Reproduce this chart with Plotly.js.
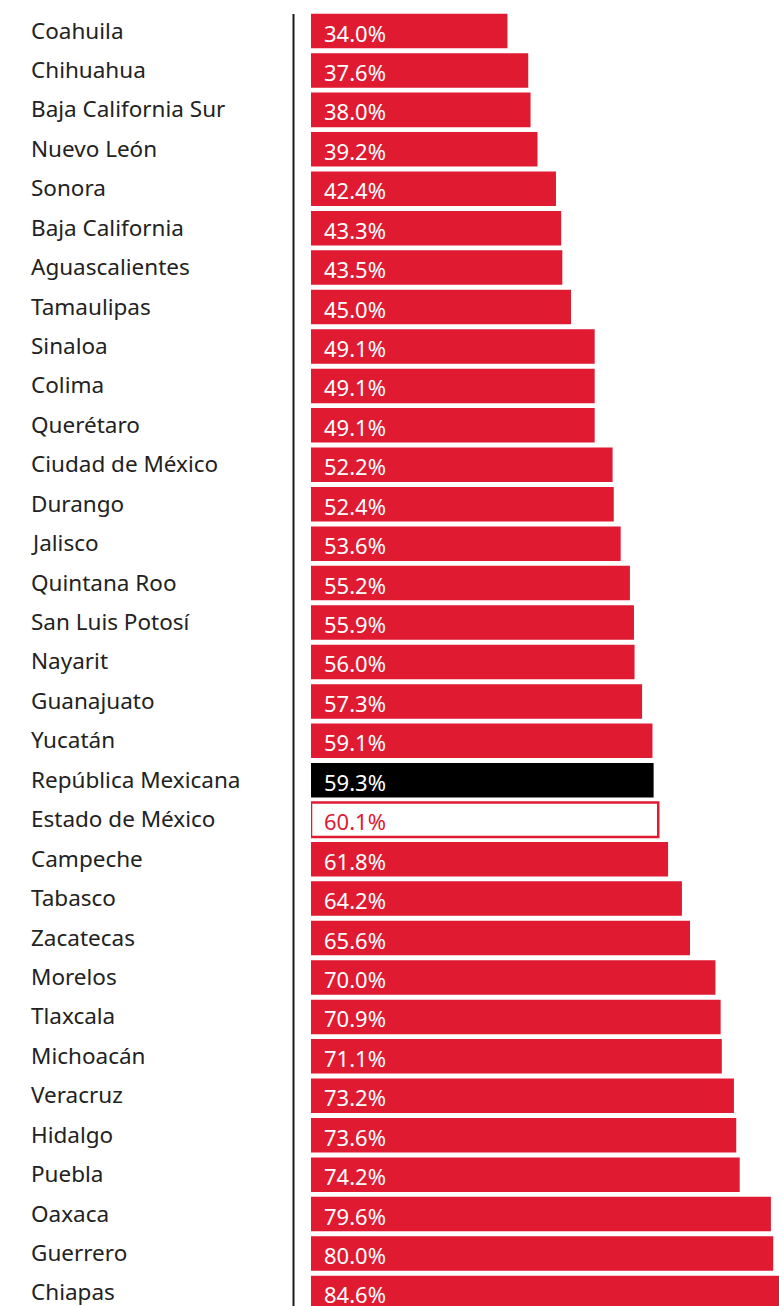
<!DOCTYPE html>
<html>
<head>
<meta charset="utf-8">
<script src="https://cdn.plot.ly/plotly-3.0.1.min.js"></script>
<style>
  html, body { margin: 0; padding: 0; background: #ffffff; }
  #chart { width: 779px; height: 1306px; }
</style>
</head>
<body>
<div id="chart"></div>
<script>
const states = [
  "Coahuila", "Chihuahua", "Baja California Sur", "Nuevo León", "Sonora",
  "Baja California", "Aguascalientes", "Tamaulipas", "Sinaloa", "Colima",
  "Querétaro", "Ciudad de México", "Durango", "Jalisco", "Quintana Roo",
  "San Luis Potosí", "Nayarit", "Guanajuato", "Yucatán", "República Mexicana",
  "Estado de México", "Campeche", "Tabasco", "Zacatecas", "Morelos",
  "Tlaxcala", "Michoacán", "Veracruz", "Hidalgo", "Puebla",
  "Oaxaca", "Guerrero", "Chiapas"
];
const values = [
  34.0, 37.6, 38.0, 39.2, 42.4,
  43.3, 43.5, 45.0, 49.1, 49.1,
  49.1, 52.2, 52.4, 53.6, 55.2,
  55.9, 56.0, 57.3, 59.1, 59.3,
  60.1, 61.8, 64.2, 65.6, 70.0,
  70.9, 71.1, 73.2, 73.6, 74.2,
  79.6, 80.0, 84.6
];
const nationalLabel = "República Mexicana";
const highlightLabel = "Estado de México";

const RED = "#e01a31";
const fills = states.map(s => s === nationalLabel ? "#000000" : (s === highlightLabel ? "#ffffff" : RED));
const lineColors = states.map(s => s === highlightLabel ? RED : "rgba(0,0,0,0)");
const lineWidths = states.map(s => s === highlightLabel ? 2.5 : 0);
const textColors = states.map(s => s === highlightLabel ? RED : "#ffffff");

const FONT = "'Noto Sans', 'Open Sans', sans-serif";

const trace = {
  type: "bar",
  orientation: "h",
  y: states,
  x: values,
  marker: { color: fills, line: { color: lineColors, width: lineWidths } },
  hoverinfo: "none",
  cliponaxis: true
};

const annotations = [];
states.forEach((s, i) => {
  annotations.push({
    xref: "paper", yref: "y",
    x: (29 - 311) / 468, y: s, yshift: 1,
    xanchor: "left", yanchor: "middle",
    text: s, showarrow: false,
    font: { family: FONT, size: 22.5, color: "#222222" }
  });
  annotations.push({
    xref: "x", yref: "y",
    x: 0, y: s, xshift: 11, yshift: -1.5,
    xanchor: "left", yanchor: "middle",
    text: values[i].toFixed(1) + "%", showarrow: false,
    font: { family: FONT, size: 22, color: textColors[i] }
  });
});

const layout = {
  width: 779, height: 1306,
  margin: { l: 311, r: 0, t: 0, b: 0, pad: 0 },
  paper_bgcolor: "#ffffff", plot_bgcolor: "#ffffff",
  showlegend: false,
  bargap: 0.125,
  xaxis: { range: [0, 81], visible: false, fixedrange: true },
  yaxis: {
    type: "category",
    range: [32.33, -0.786],
    showticklabels: false, showgrid: false, zeroline: false, showline: false,
    ticks: "", fixedrange: true
  },
  annotations: annotations,
  shapes: [{
    type: "line", xref: "paper", yref: "paper",
    x0: (293.5 - 311) / 468, x1: (293.5 - 311) / 468,
    y0: 0, y1: 1 - 14 / 1306,
    line: { color: "#1a1a1a", width: 2 }
  }]
};

Plotly.newPlot("chart", [trace], layout, { displayModeBar: false, staticPlot: true });
</script>
</body>
</html>
